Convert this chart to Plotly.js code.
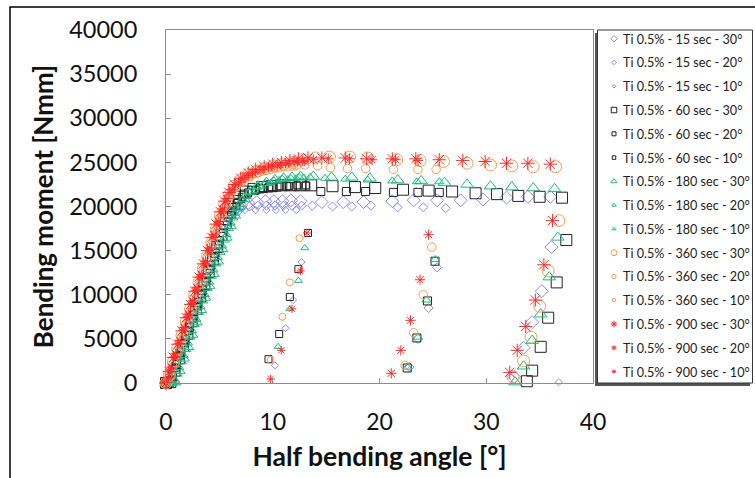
<!DOCTYPE html>
<html>
<head>
<meta charset="utf-8">
<script src="https://cdn.plot.ly/plotly-3.0.1.min.js"></script>
<style>
  html, body { margin: 0; padding: 0; background: #fff; }
  #chart { width: 755px; height: 478px; }
</style>
</head>
<body>
<div id="chart"></div>
<script>
// ---- Data (half bending angle [°], bending moment [Nmm]) ----
const s15_30_x = [0,0.3,0.7,1.1,1.5,1.9,2.3,2.7,3.1,3.5,3.9,4.3,4.7,5.1,5.5,5.9,6.4,7.0,7.7,8.5,9.3,10.1,10.9,11.7,12.6,14.6,16.6,18.5,21.2,23.2,25.4,27.6,29.7,31.9,33.9,36.0,36.1,35.2,34.3,33.5,32.6];
const s15_30_y = [0,0,1400,2800,4200,5600,7000,8400,9800,11200,12600,14000,15400,16700,17900,18900,19600,20100,20400,20500,20600,20600,20600,20700,20600,20500,20500,20500,20600,20700,20700,20700,20800,21000,21100,21100,15400,10400,6900,4000,700];
const s15_20_x = [0,0.4,0.8,1.2,1.6,2.0,2.4,2.8,3.2,3.6,4.0,4.4,4.8,5.2,5.6,6.0,6.5,7.1,7.8,8.6,9.4,10.2,11.0,11.8,12.7,13.7,15.6,17.4,19.2,21.7,24.1,26.2,25.4,24.6,23.6,22.8];
const s15_20_y = [0,300,1700,3100,4500,5900,7300,8700,10100,11500,12900,14300,15700,17000,18100,19000,19600,19900,20000,20100,20100,20100,20100,20100,20100,20100,20000,20000,20100,19900,19900,19800,13100,8500,5000,1800];
const s15_10_x = [0,0.2,0.6,1.0,1.4,1.8,2.2,2.6,3.0,3.4,3.8,4.2,4.6,5.0,5.4,5.8,6.3,6.9,7.4,8.4,9.4,10.3,11.2,12.2,12.7,11.9,11.2,10.2,36.8];
const s15_10_y = [0,0,1000,2400,3800,5200,6600,8000,9400,10800,12200,13600,15000,16300,17500,18500,19200,19500,19600,19600,19600,19600,19600,19600,13700,9400,6200,2000,100];

const s60_30_x = [0,0.4,0.8,1.2,1.6,2.0,2.4,2.8,3.2,3.6,4.0,4.4,4.8,5.2,5.6,6.0,6.4,6.9,7.5,8.2,9.0,9.9,10.8,11.7,12.6,13.6,15.6,17.7,19.6,22.2,24.6,26.8,29.0,31.0,33.0,35.0,37.1,37.5,36.6,35.8,35.1,34.3,33.8];
const s60_30_y = [0,100,1400,2800,4200,5600,7000,8400,9800,11200,12600,14000,15400,16800,18100,19300,20300,21100,21700,22000,22200,22300,22400,22400,22400,22400,22300,22200,22100,21900,21800,21700,21500,21400,21200,21100,21000,16200,11400,7400,4100,1400,200];
const s60_20_x = [0,0.3,0.6,1.0,1.4,1.8,2.2,2.6,3.0,3.4,3.8,4.2,4.6,5.0,5.4,5.8,6.2,6.7,7.3,8.0,8.8,9.6,10.4,11.3,12.2,13.1,14.5,16.9,18.7,21.3,23.6,25.6,25.2,24.5,23.5,22.6];
const s60_20_y = [0,0,700,2100,3500,4900,6300,7700,9100,10500,11900,13300,14700,16100,17500,18800,19900,20800,21400,21800,22000,22100,22200,22300,22300,22300,21700,21700,21700,21600,21600,21600,13800,9300,5100,1700];
const s60_10_x = [0,0.5,0.9,1.3,1.7,2.1,2.5,2.9,3.3,3.7,4.1,4.5,4.9,5.3,5.7,6.1,6.6,7.1,7.7,8.4,9.1,9.9,10.7,11.5,12.3,13.1,13.3,12.4,11.6,10.6,9.6];
const s60_10_y = [0,300,1700,3100,4500,5900,7300,8700,10100,11500,12900,14300,15700,17000,18300,19400,20400,21100,21600,21900,22100,22200,22300,22300,22400,22400,17000,12900,9750,5550,2700];

const s180_30_x = [0,0.4,0.8,1.2,1.6,2.0,2.4,2.8,3.2,3.6,4.0,4.4,4.8,5.2,5.6,6.0,6.4,6.8,7.3,7.9,8.6,9.4,10.2,11.0,11.8,12.6,13.8,15.5,17.4,19.1,21.7,23.9,26.1,28.2,30.4,32.4,34.4,36.4,36.7,35.9,35.1,34.3,33.5,32.7];
const s180_30_y = [0,0,100,1400,2800,4100,5500,6900,8300,9700,11000,12400,13800,15200,16500,17800,19000,20000,20900,21700,22300,22700,23000,23200,23300,23400,23400,23300,23300,23200,23000,22900,22700,22500,22300,22200,22100,22000,16500,12000,7800,4800,1900,100];
const s180_20_x = [0,0.3,0.7,1.1,1.5,1.9,2.3,2.7,3.1,3.5,3.9,4.3,4.7,5.1,5.5,5.9,6.3,6.7,7.2,7.8,8.5,9.3,10.1,10.9,11.7,12.5,13.5,14.9,16.8,18.9,21.2,23.5,25.6,25.2,24.4,23.6,22.6];
const s180_20_y = [0,0,0,1000,2400,3800,5200,6600,8000,9300,10700,12100,13500,14800,16200,17500,18700,19800,20800,21600,22200,22600,22900,23100,23200,23300,23300,23200,23100,23000,22900,22800,22800,14000,9400,5200,1800];
const s180_10_x = [0,0.5,0.9,1.3,1.7,2.1,2.5,2.9,3.3,3.7,4.1,4.5,4.9,5.3,5.7,6.1,6.5,7.0,7.6,8.3,9.0,9.8,10.6,11.4,12.2,12.9,13.0,12.4,11.6,10.5];
const s180_10_y = [0,0,300,1700,3100,4500,5900,7200,8600,10000,11400,12800,14200,15500,16800,18100,19200,20200,21100,21800,22300,22700,23000,23100,23200,23300,15300,11600,8400,4100];

const s360_30_x = [0,0.3,0.7,1.1,1.5,1.9,2.3,2.7,3.1,3.5,3.9,4.3,4.7,5.1,5.5,5.9,6.4,7.0,7.7,8.5,9.3,10.1,11.0,11.9,12.8,14.0,15.3,17.2,18.9,21.6,23.8,26.0,28.2,30.4,32.4,34.4,36.5,36.8,35.8,35.0,34.2,33.5,32.5];
const s360_30_y = [0,900,2400,3900,5400,6900,8400,9900,11400,12900,14400,15900,17400,18900,20200,21300,22300,23000,23600,24000,24300,24600,24800,25000,25300,25500,25600,25600,25500,25300,25200,25100,24900,24700,24600,24500,24500,18400,12700,8700,5200,2500,700];
const s360_20_x = [0,0.2,0.6,1.0,1.4,1.8,2.2,2.6,3.0,3.4,3.8,4.2,4.6,5.0,5.4,5.8,6.3,6.9,7.5,8.2,9.0,9.8,10.6,11.4,12.2,13.0,14.2,15.4,17.0,18.7,21.3,23.6,25.3,24.9,24.1,23.2,22.4];
const s360_20_y = [0,500,2000,3500,5000,6500,8000,9500,11000,12500,14000,15500,17000,18500,19800,21000,22000,22800,23300,23700,24000,24200,24400,24500,24600,24700,24600,24400,24300,24300,24200,24200,24200,15400,10000,5700,2000];
const s360_10_x = [0,0.4,0.8,1.2,1.6,2.0,2.4,2.8,3.2,3.6,4.0,4.4,4.8,5.2,5.6,6.1,6.6,7.2,7.9,8.6,9.4,10.2,11.0,11.8,12.3,12.5,11.6,10.9,9.8];
const s360_10_y = [0,1300,2800,4300,5800,7300,8800,10300,11800,13300,14800,16300,17700,19000,20200,21300,22100,22800,23300,23700,24000,24200,24400,24500,24600,16400,11400,7500,2600];

const s900_30_x = [0,0.3,0.7,1.1,1.5,1.9,2.3,2.7,3.1,3.5,3.9,4.3,4.7,5.1,5.5,5.9,6.4,7.0,7.7,8.4,9.2,10.0,10.8,11.6,12.4,13.3,14.6,16.8,18.8,21.2,23.4,25.6,27.8,29.9,31.9,33.9,36.0,36.2,35.4,34.6,33.7,32.9,32.2];
const s900_30_y = [0,1300,2900,4400,5900,7400,8900,10400,12000,13500,15000,16500,18000,19400,20600,21600,22500,23200,23800,24200,24500,24800,25000,25200,25400,25500,25500,25500,25400,25400,25400,25300,25200,25100,24900,24900,24800,18400,13400,9400,6400,3700,1200];
const s900_20_x = [0,0.2,0.5,0.9,1.3,1.7,2.1,2.5,2.9,3.3,3.7,4.1,4.5,4.9,5.3,5.7,6.2,6.8,7.4,8.1,8.8,9.6,10.4,11.2,12.0,12.8,13.8,15.2,17.2,19.3,21.5,23.6,24.6,23.8,22.9,22.0,21.1];
const s900_20_y = [0,600,1800,3300,4800,6300,7800,9300,10800,12300,13800,15300,16800,18300,19700,20900,21900,22700,23300,23800,24200,24500,24700,24900,25100,25200,25300,25400,25400,25300,25300,25200,16800,11700,7100,3700,1100];
const s900_10_x = [0,0.4,0.8,1.2,1.6,2.0,2.4,2.8,3.2,3.6,4.0,4.4,4.8,5.2,5.6,6.0,6.5,7.1,7.7,8.4,9.1,9.9,10.7,11.5,12.3,13.0,13.2,12.6,11.8,10.8,9.8];
const s900_10_y = [200,1500,3000,4500,6000,7500,9000,10500,12000,13500,15000,16500,18000,19400,20600,21600,22400,23000,23500,23900,24200,24500,24700,24900,25000,25100,17000,12700,8400,3700,450];

const seriesNames = [
  "Ti 0.5% - 15 sec - 30°","Ti 0.5% - 15 sec - 20°","Ti 0.5% - 15 sec - 10°",
  "Ti 0.5% - 60 sec - 30°","Ti 0.5% - 60 sec - 20°","Ti 0.5% - 60 sec - 10°",
  "Ti 0.5% - 180 sec - 30°","Ti 0.5% - 180 sec - 20°","Ti 0.5% - 180 sec - 10°",
  "Ti 0.5% - 360 sec - 30°","Ti 0.5% - 360 sec - 20°","Ti 0.5% - 360 sec - 10°",
  "Ti 0.5% - 900 sec - 30°","Ti 0.5% - 900 sec - 20°","Ti 0.5% - 900 sec - 10°"
];
const xTickVals = [0,10,20,30,40];
const yTickVals = [0,5000,10000,15000,20000,25000,30000,35000,40000];

// ---- Styles ----
const xs = [s15_30_x,s15_20_x,s15_10_x,s60_30_x,s60_20_x,s60_10_x,s180_30_x,s180_20_x,s180_10_x,s360_30_x,s360_20_x,s360_10_x,s900_30_x,s900_20_x,s900_10_x];
const ys = [s15_30_y,s15_20_y,s15_10_y,s60_30_y,s60_20_y,s60_10_y,s180_30_y,s180_20_y,s180_10_y,s360_30_y,s360_20_y,s360_10_y,s900_30_y,s900_20_y,s900_10_y];
const groupStyle = [
  {symbol:'diamond-open', color:'#8a8aff', sizes:[10,7,5.5]},
  {symbol:'square-open', color:'#222222', sizes:[11,8,7]},
  {symbol:'triangle-up-open', color:'#19bf7c', sizes:[11,8,7]},
  {symbol:'circle-open', color:'#ff9a4f', sizes:[12,8.5,7]},
  {symbol:'asterisk-open', color:'#ff2b2b', sizes:[11,8.5,7]}
];

const traces = xs.map((x, i) => {
  const g = groupStyle[Math.floor(i/3)];
  const k = i % 3;
  return {
    type: 'scatter', mode: 'markers',
    x: x, y: ys[i], name: seriesNames[i],
    legendgroup: 'g' + i,
    cliponaxis: false,
    marker: {symbol: g.symbol, size: g.sizes[k], color: g.color,
             line: {color: g.color, width: 1}}
  };
});

const FONT = 'Lato, "Open Sans", sans-serif';
const L = 166, R = 162, T = 30, B = 95, W = 755, H = 478;
const pw = W - L - R, ph = H - T - B;
const px = v => (v - L) / pw;
const py = v => (H - B - v) / ph;

const layout = {
  width: W, height: H,
  margin: {l: L, r: R, t: T, b: B, pad: 0, autoexpand: false},
  paper_bgcolor: '#ffffff', plot_bgcolor: '#ffffff',
  font: {family: FONT, color: '#111'},
  showlegend: true,
  xaxis: {
    range: [0, 40], tickvals: xTickVals, ticktext: xTickVals.map(String),
    showgrid: false, zeroline: false,
    showline: true, mirror: true, linecolor: '#8c8c8c', linewidth: 1,
    ticks: 'inside', ticklen: 5, tickcolor: '#8c8c8c',
    tickfont: {family: FONT, size: 23, color: '#111'},
    ticklabelstandoff: 18,
    title: {text: '<b>Half bending angle [°]</b>', font: {family: FONT, size: 26.5, color: '#111'}, standoff: 13},
    automargin: false
  },
  yaxis: {
    range: [0, 40000], tickvals: yTickVals, ticktext: yTickVals.map(String),
    showgrid: false, zeroline: false,
    showline: true, mirror: true, linecolor: '#8c8c8c', linewidth: 1,
    ticks: 'inside', ticklen: 5, tickcolor: '#8c8c8c',
    tickfont: {family: FONT, size: 23.5, color: '#111'},
    ticklabelstandoff: 23,
    title: {text: '<b>Bending moment [Nmm]</b>', font: {family: FONT, size: 26, color: '#111'}, standoff: 8},
    automargin: false
  },
  legend: {
    x: px(583), xanchor: 'left', y: py(24), yanchor: 'top',
    bgcolor: 'rgba(0,0,0,0)', bordercolor: 'rgba(0,0,0,0)', borderwidth: 0,
    font: {family: FONT, size: 12.6, color: '#222'},
    traceorder: 'grouped', tracegroupgap: 4.4,
    itemsizing: 'trace', maxheight: 440
  },
  shapes: [
    {type: 'rect', xref: 'paper', yref: 'paper',
     x0: px(10), x1: px(760), y0: py(485), y1: py(7),
     line: {color: '#000', width: 1.5}, fillcolor: 'rgba(0,0,0,0)', layer: 'below'},
    // legend box shadow and frame
    {type: 'rect', xref: 'paper', yref: 'paper',
     x0: px(595), x1: px(750), y0: py(386), y1: py(33),
     line: {width: 0}, fillcolor: '#555555', layer: 'below'},
    {type: 'rect', xref: 'paper', yref: 'paper',
     x0: px(597.5), x1: px(752.5), y0: py(383), y1: py(30),
     line: {color: '#333', width: 1}, fillcolor: '#ffffff', layer: 'below'}
  ]
};

Plotly.newPlot('chart', traces, layout, {staticPlot: true, displayModeBar: false}).then(() => {
  // legend symbols: smaller and closer to their labels, as in the reference
  document.querySelectorAll('#chart .legend .legendpoints').forEach(g => {
    g.setAttribute('transform', 'translate(11,0)');
    g.querySelectorAll('path').forEach(p => {
      const t = p.getAttribute('transform') || '';
      p.setAttribute('transform', t + ' scale(0.5)');
      p.style.strokeWidth = '2px';
    });
  });
});
</script>
</body>
</html>
